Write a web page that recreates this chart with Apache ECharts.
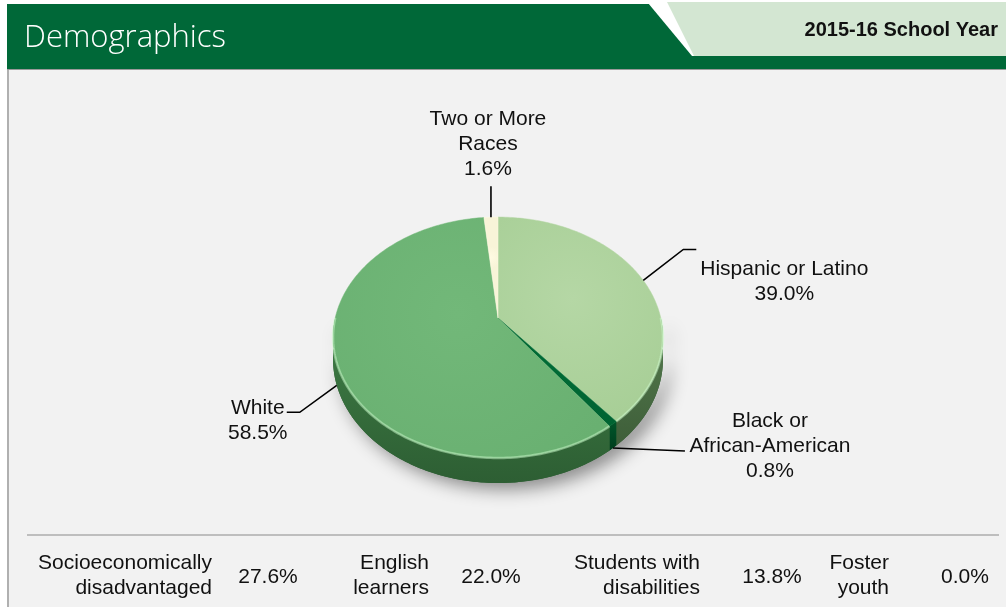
<!DOCTYPE html>
<html><head><meta charset="utf-8">
<script src="https://cdn.jsdelivr.net/npm/echarts@6/dist/echarts.min.js"></script>
<style>html,body{margin:0;padding:0;background:#fff}#c{width:1006px;height:607px}</style>
</head><body><div id="c"></div>
<script>
// ---- data ----
const categories = ['Hispanic or Latino', 'Black or African-American', 'White', 'Two or More Races'];
const labelNames = ['Hispanic or Latino', 'Black or\nAfrican-American', 'White', 'Two or More\nRaces'];
const values = [39.0, 0.8, 58.5, 1.6];
const subgroupNames = ['Socioeconomically\ndisadvantaged', 'English\nlearners', 'Students with\ndisabilities', 'Foster\nyouth'];
const subgroupValues = [27.6, 22.0, 13.8, 0.0];
const titleText = 'Demographics';
const yearText = '2015-16 School Year';

// ---- styles ----
const topColors = ['#b5d7a5', '#006b35', '#72b879', '#fffbe2'];
const topEdgeColors = ['#a8cf97', '#006432', '#69b071', '#f8f4d8'];
const sideTop = ['#567c4f', '#00562a', '#3f7e46', '#aaa78f'];
const sideBottom = ['#3e5e39', '#003d1d', '#2d5e33', '#8a876f'];
const FONT = '"Liberation Sans", Arial, Helvetica, sans-serif';

// ---- pie geometry (perspective-projected disc) ----
const G = { cx: 498, cy: 318, A: 162.8, B: 117.3, e: 0.162, D: 21 };
function proj(t, drop) {
  const u = Math.sin(t), v = Math.cos(t), s = 1 + G.e * v;
  return [G.cx + G.A * u / s, G.cy - G.B * v / s + (drop ? G.D / s : 0)];
}
function arcPts(a0, a1, drop) {
  const n = Math.max(2, Math.ceil((a1 - a0) / (Math.PI / 180)));
  const pts = [];
  for (let k = 0; k <= n; k++) pts.push(proj(a0 + (a1 - a0) * k / n, drop));
  return pts;
}
const total = values.reduce((a, b) => a + b, 0);
const starts = [];
{ let acc = 0; values.forEach(v => { starts.push(acc); acc += v / total * Math.PI * 2; }); }
function span(i) { return [starts[i], starts[i] + values[i] / total * Math.PI * 2]; }

// label leader layout (offsets from the slice's anchor point)
const labelLayout = [
  { elbow: [40, -31], end: [53, -31], text: [88, 7], va: 'top' },
  { elbow: null, end: [72, 3], text: [85, -42], va: 'top' },
  { elbow: [-37, 27], end: [-50, 27], text: [-29, -17], va: 'top' },
  { elbow: null, end: [0, -31], text: [-3, -4], va: 'bottom' }
];

const pieData = values.map((v, i) => ({ name: categories[i], value: v }));

function renderShadow(params, api) {
  const pts = arcPts(Math.PI / 2, Math.PI * 1.5, false).concat(arcPts(Math.PI / 2, Math.PI * 1.5, true).reverse());
  return { type: 'polygon', shape: { points: pts }, style: { fill: '#2d5e33', shadowBlur: 18, shadowOffsetX: 7, shadowOffsetY: 6, shadowColor: 'rgba(0,0,0,0.45)' } };
}
function renderSide(params, api) {
  const i = params.dataIndex;
  const [a0, a1] = span(i);
  const s0 = Math.max(a0, Math.PI / 2), s1 = Math.min(a1, Math.PI * 1.5);
  if (s1 <= s0) return { type: 'group', children: [] };
  const pts = arcPts(s0, s1, false).concat(arcPts(s0, s1, true).reverse());
  return {
    type: 'polygon', shape: { points: pts },
    style: {
      fill: {
        type: 'linear', x: 0, y: 0, x2: 0, y2: 1,
        colorStops: [{ offset: 0, color: sideTop[i] }, { offset: 1, color: sideBottom[i] }]
      }
    }
  };
}
function renderTop(params, api) {
  const i = params.dataIndex;
  const [a0, a1] = span(i);
  const children = [];
  const pts = [[G.cx, G.cy]].concat(arcPts(a0, a1, false));
  children.push({
    type: 'polygon', shape: { points: pts },
    style: {
      fill: {
        type: 'radial', x: 0.45, y: 0.4, r: 0.75,
        colorStops: [{ offset: 0, color: topColors[i] }, { offset: 1, color: topEdgeColors[i] }]
      },
      stroke: topColors[i], lineWidth: 0.5
    }
  });
  // front rim highlight
  const r0 = Math.max(a0, Math.PI / 2), r1 = Math.min(a1, Math.PI * 1.5);
  if (r1 > r0 && i !== 1 && i !== 3) {
    children.push({ type: 'polyline', shape: { points: arcPts(r0, r1, false) }, style: { stroke: 'rgba(210,255,210,0.45)', lineWidth: 2.5, fill: null } });
  }
  // label
  const m = (a0 + a1) / 2;
  const near = Math.cos(m) < 0;
  const anc = proj(m, near);
  const L = labelLayout[i];
  const line = [anc];
  if (L.elbow) line.push([anc[0] + L.elbow[0], anc[1] + L.elbow[1]]);
  const end = [anc[0] + L.end[0], anc[1] + L.end[1]];
  line.push(end);
  children.push({ type: 'polyline', shape: { points: line }, style: { stroke: '#000', lineWidth: 1.6, fill: null } });
  children.push({
    type: 'text',
    style: {
      text: labelNames[i] + '\n' + api.value(0).toFixed(1) + '%',
      x: end[0] + L.text[0], y: end[1] + L.text[1],
      align: 'center', textAlign: 'center', verticalAlign: L.va, textVerticalAlign: L.va,
      font: '21px ' + FONT, lineHeight: 25, fill: '#111'
    }
  });
  return { type: 'group', children };
}

// ---- bottom table ----
const colRight = [212, 429, 700, 889];
const valCenter = [268, 491, 772, 965];
const tableEls = [];
subgroupNames.forEach((n, i) => {
  tableEls.push({ type: 'text', style: { text: n, x: colRight[i], y: 576, align: 'right', textAlign: 'right', verticalAlign: 'middle', textVerticalAlign: 'middle', font: '21px ' + FONT, lineHeight: 25, fill: '#111' } });
  tableEls.push({ type: 'text', style: { text: subgroupValues[i].toFixed(1) + '%', x: valCenter[i], y: 577, align: 'center', textAlign: 'center', verticalAlign: 'middle', textVerticalAlign: 'middle', font: '21px ' + FONT, fill: '#111' } });
});

const chart = echarts.init(document.getElementById('c'), null, { renderer: 'canvas' });
chart.setOption({
  animation: false,
  backgroundColor: '#ffffff',
  graphic: [
    { type: 'rect', z: -10, shape: { x: 7, y: 68, width: 999, height: 539 }, style: { fill: '#f2f2f2' } },
    { type: 'rect', z: -9, shape: { x: 7, y: 68, width: 2, height: 539 }, style: { fill: '#b0b0b0' } },
    { type: 'rect', z: -9, shape: { x: 7, y: 68, width: 999, height: 2 }, style: { fill: '#9a9a9a' } },
    { type: 'rect', z: -8, shape: { x: 7, y: 4, width: 999, height: 65 }, style: { fill: '#006838' } },
    { type: 'polygon', z: -7, shape: { points: [[648, 3], [1006, 3], [1006, 56], [692, 56]] }, style: { fill: '#ffffff' } },
    { type: 'polygon', z: -6, shape: { points: [[667, 2], [1006, 2], [1006, 56], [694, 56]] }, style: { fill: '#d3e6d2' } },
    { type: 'text', z: -5, style: { text: titleText, x: 24, y: 38, verticalAlign: 'middle', textVerticalAlign: 'middle', font: '300 31px "Open Sans", sans-serif', fill: '#ffffff' } },
    { type: 'text', z: -5, style: { text: yearText, x: 998, y: 30, align: 'right', textAlign: 'right', verticalAlign: 'middle', textVerticalAlign: 'middle', font: 'bold 20px ' + FONT, fill: '#111' } },
    { type: 'line', z: -5, shape: { x1: 27, y1: 535, x2: 999, y2: 535 }, style: { stroke: '#8a8a8a', lineWidth: 1 } }
  ].concat(tableEls),
  series: [
    { type: 'custom', coordinateSystem: 'none', silent: true, z: 1, data: [0], renderItem: renderShadow },
    { type: 'custom', coordinateSystem: 'none', silent: true, z: 2, data: pieData, renderItem: renderSide },
    { type: 'custom', coordinateSystem: 'none', silent: true, z: 3, data: pieData, renderItem: renderTop }
  ]
});
</script></body></html>
